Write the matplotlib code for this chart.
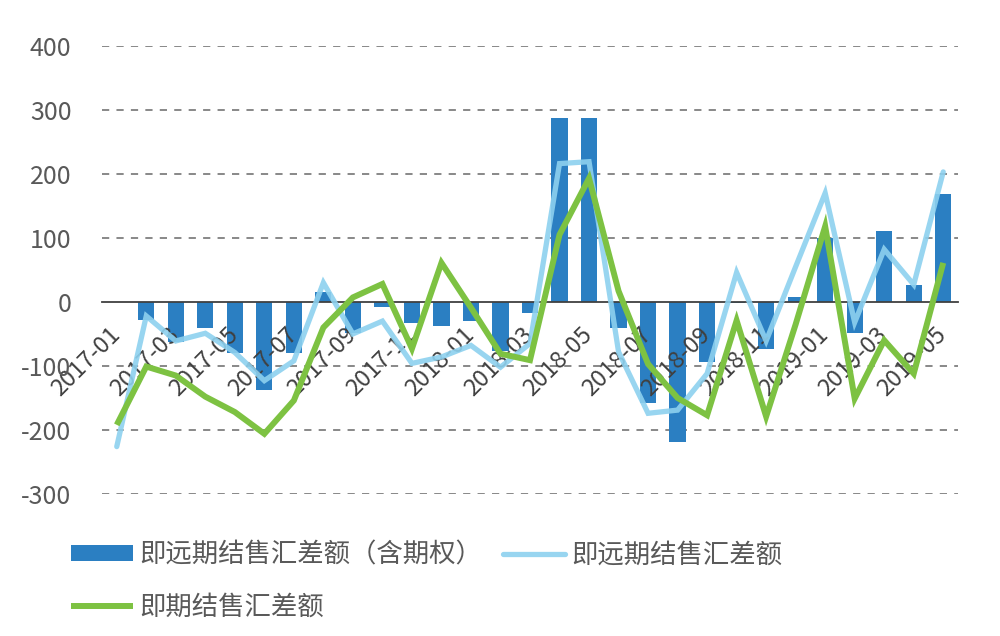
import matplotlib
import matplotlib.pyplot as plt
import numpy as np

plt.rcParams['font.family'] = ['Noto Sans CJK SC', 'DejaVu Sans']
plt.rcParams['axes.unicode_minus'] = False

months = ["2017-01", "2017-02", "2017-03", "2017-04", "2017-05", "2017-06",
          "2017-07", "2017-08", "2017-09", "2017-10", "2017-11", "2017-12",
          "2018-01", "2018-02", "2018-03", "2018-04", "2018-05", "2018-06",
          "2018-07", "2018-08", "2018-09", "2018-10", "2018-11", "2018-12",
          "2019-01", "2019-02", "2019-03", "2019-04", "2019-05"]

# 即远期结售汇差额（含期权）- bars
fwd_opt = [0, -29, -63, -40, -80, -137, -80, 15, -48, -8, -33, -37,
           -30, -76, -18, 287, 287, -41, -158, -219, -94, -2, -73, 8,
           100, -49, 111, 26, 169]
# 即远期结售汇差额 - light blue line
fwd = [-226, -22, -61, -49, -79, -123, -92, 30, -50, -30, -96, -86,
       -68, -102, -65, 216, 219, -78, -174, -169, -112, 46, -61, 55,
       170, -32, 82, 27, 203]
# 即期结售汇差额 - green line
spot = [-192, -101, -115, -148, -172, -206, -154, -40, 7, 28, -73, 61,
        -9, -81, -91, 105, 193, 17, -97, -150, -177, -29, -179, -35,
        118, -151, -60, -112, 61]

labels = ["即远期结售汇差额（含期权）", "即远期结售汇差额", "即期结售汇差额"]

x = np.arange(len(months))

fig = plt.figure(figsize=(10, 6.36), dpi=100)
ax = fig.add_axes([0.102, 0.2233, 0.856, 0.7047])
ax.set_axisbelow(False)

# dashed grid
for v in [-300, -200, -100, 100, 200, 300, 400]:
    ax.axhline(v, color='#7f7f7f', lw=1.3, ls=(0, (4, 4)), zorder=0)

b = ax.bar(x, fwd_opt, width=0.55, color='#2b7fc2', zorder=2, label=labels[0])
l1, = ax.plot(x, fwd, color='#8dd1ef', lw=3.8, zorder=3, alpha=0.9,
              solid_capstyle='round', solid_joinstyle='miter', label=labels[1])
l2, = ax.plot(x, spot, color='#7dc242', lw=4.3, zorder=4,
              solid_capstyle='butt', solid_joinstyle='miter', label=labels[2])

ax.set_xlim(-0.5, len(months) - 0.5)
ax.set_ylim(-300, 400)

for s in ['top', 'right', 'left']:
    ax.spines[s].set_visible(False)
ax.spines['bottom'].set_position(('data', 0))
ax.spines['bottom'].set_color('#404040')
ax.spines['bottom'].set_linewidth(1.3)

ax.set_yticks(np.arange(-300, 401, 100))
ax.tick_params(axis='y', length=0, pad=22, labelsize=18, labelcolor='#595959')
ax.set_xticks(x[::2])
ax.set_xticklabels(months[::2], rotation=45, ha='right', va='center',
                   rotation_mode='anchor')
ax.tick_params(axis='x', length=0, pad=21, labelsize=17, labelcolor='#404040')

fig.legend([b, l2, l1], [labels[0], labels[2], labels[1]], ncol=2,
           loc='upper left', bbox_to_anchor=(0.06, 0.165), frameon=False,
           fontsize=19, labelcolor='#595959', handlelength=2.35,
           handleheight=0.55, handletextpad=0.25, columnspacing=0.8,
           labelspacing=0.95, borderaxespad=0)

fig.savefig('out.png', dpi=100)
